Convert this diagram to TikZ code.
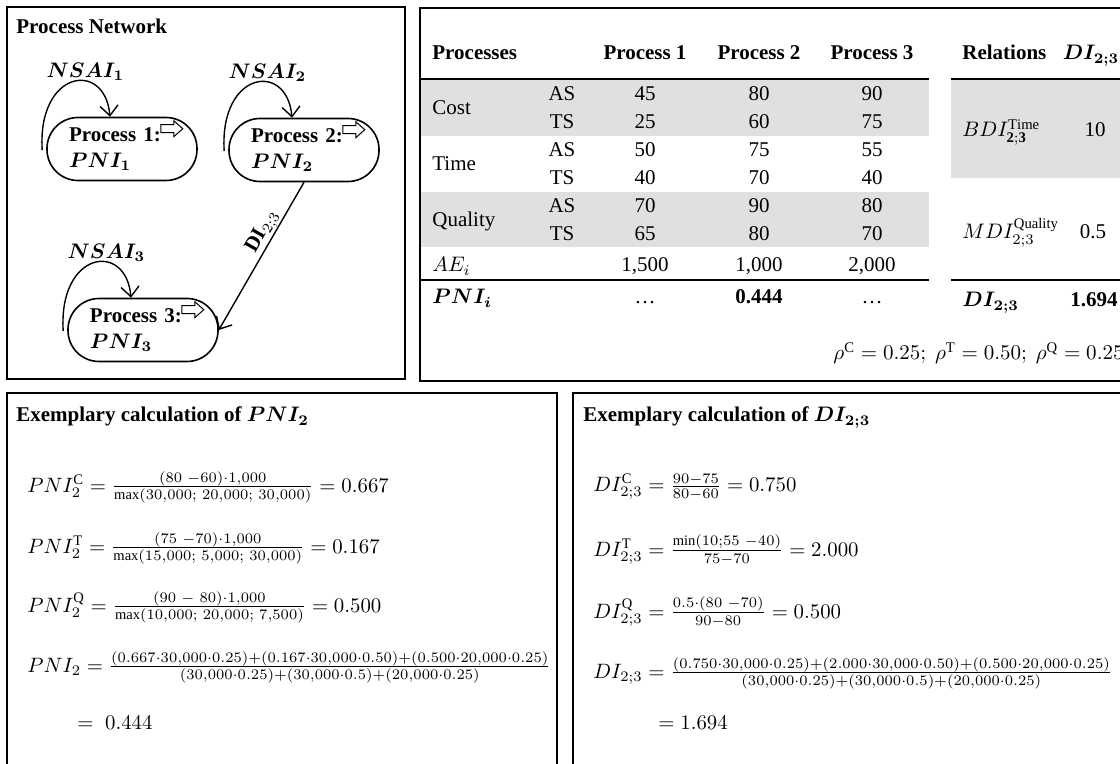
\RequirePackage{fix-cm}
\documentclass[tikz,border=0pt]{standalone}
\usepackage{amsmath, amssymb}
\usepackage{fontspec}
\setmainfont{Liberation Serif}
\usepackage{tikz}
\usetikzlibrary{calc,positioning,arrows.meta}
\tikzset{
	>={Straight Barb[length=5pt,width=9pt]},
	frame/.style={draw, line width=1pt},
	procbox/.style={
		rectangle,
		rounded corners=15.5pt,
		draw=black, line width=0.8pt,
		minimum width=75pt,
		minimum height=31.5pt,
		text width=53pt,
		inner xsep=11pt,
		align=left,
		font=\bfseries\fontsize{10.5}{13}\selectfont},
	selfloop/.style={draw, line width=0.7pt, ->},
	hollow/.style={draw, line width=0.5pt},
	looplabel/.style={anchor=west, inner sep=0pt, font=\fontsize{10.5}{13}\selectfont},
	cell/.style={inner sep=0pt, text height=8pt, text depth=1pt, font=\fontsize{10.5}{13}\selectfont},
	headcell/.style={cell, font=\bfseries\fontsize{10.5}{13}\selectfont},
	tabrule/.style={line width=1.3pt},
	band/.style={fill=black!12},
	formula/.style={anchor=west, inner sep=0pt, font=\fontsize{10.4}{14}\selectfont},
}

\begin{document}
\begin{tikzpicture}[x=0.5pt, y=-0.5pt]
	\useasboundingbox (0,0) rectangle (1120,764);
	\fill[white] (0,0) rectangle (1120,764);
	% shaded rows and rules of the table
	\fill[band] (421,80) rectangle (929,136);
	\fill[band] (421,192) rectangle (929,247);
	\fill[band] (951,80) rectangle (1125,178);
	\draw[tabrule] (420,79) -- (929,79);
	\draw[tabrule] (420,280) -- (929,280);
	\draw[tabrule] (951,79) -- (1125,79);
	\draw[tabrule] (951,280) -- (1125,280);
	\draw[frame] (7,7) rectangle (405,379);
	\draw[frame] (420,8) rectangle (1130,381);
	\draw[frame] (7,393) rectangle (557,775);
	\draw[frame] (573,393) rectangle (1130,775);

	% process network
	\node[headcell, anchor=west] (net) at (16,27) {Process Network};
	\node[procbox] (P1) at (122,149) {Process 1:\\ $\boldsymbol{PNI_1}$};
	\node[procbox] (P2) at (304,150) {Process 2:\\ $\boldsymbol{PNI_2}$};
	\node[procbox] (P3) at (143,330) {Process 3:\\ $\boldsymbol{PNI_3}$};
	\foreach \n in {1,2,3} {
		\node[looplabel] (N\n) at ([shift={(0,-45)}]P\n.north west) {$\boldsymbol{NSAI_\n}$};
		\draw[selfloop] ([shift={(-4,1)}]P\n.west) .. controls +(-5,-80) and +(-5,-57) .. ([shift={(-12,0)}]P\n.north);
		\draw[hollow] ([shift={(-37,8)}]P\n.north east) -- ++(13,0) -- ++(0,-4) -- ++(9,8) -- ++(-9,8) -- ++(0,-4) -- ++(-13,0) -- cycle;
	}
	\draw[selfloop] (P2.south) -- node[cell, pos=0.37, sloped, above=2pt] (DIlab) {\textbf{DI}$_{2;3}$} (P3.east);

	% table
	\node[headcell, anchor=west] (hProc) at (432,53) {Processes};
	\foreach \i/\x in {1/645, 2/759, 3/872}
		\node[headcell] (hP\i) at (\x,53) {Process \i};
	\node[headcell, anchor=west] (hRel) at (962,53) {Relations};
	\node[headcell] (hDI) at (1091,53) {$\boldsymbol{DI_{2;3}}$};
	\foreach \c/\y in {Cost/108, Time/164, Quality/220}
		\node[cell, anchor=west] (k\c) at (432,\y) {\c};
	\foreach \y/\s/\a/\b/\c [count=\r] in {94/AS/45/80/90, 122/TS/25/60/75, 150/AS/50/75/55, 178/TS/40/70/40, 206/AS/70/90/80, 234/TS/65/80/70} {
		\node[cell] (s\r) at (562,\y) {\s};
		\node[cell] (v\r-1) at (645,\y) {\a};
		\node[cell] (v\r-2) at (759,\y) {\b};
		\node[cell] (v\r-3) at (872,\y) {\c};
	}
	\node[cell, anchor=west] (AE) at (432,265) {$AE_i$};
	\foreach \i/\x/\v in {1/645/{1,500}, 2/759/{1,000}, 3/872/{2,000}}
		\node[cell] (ae\i) at (\x,265) {\v};
	\node[cell, anchor=west] (PNI) at (432,297) {$\boldsymbol{PNI_i}$};
	\node[cell] (pni1) at (645,297) {\dots};
	\node[cell] (pni2) at (759,297) {\textbf{0.444}};
	\node[cell] (pni3) at (872,297) {\dots};
	\node[cell, anchor=west] (BDI) at (962,130) {$BDI^{\mathrm{Time}}_{\mathbf{2;3}}$};
	\node[cell] (bdi) at (1095,130) {10};
	\node[cell, anchor=west] (MDI) at (962,232) {$MDI^{\mathrm{Quality}}_{2;3}$};
	\node[cell] (mdi) at (1093,232) {0.5};
	\node[cell, anchor=west] (DI) at (962,300) {$\boldsymbol{DI_{2;3}}$};
	\node[cell] (di) at (1094,300) {\textbf{1.694}};
	\node[cell, anchor=east] (rho) at (1124,353) {$\rho^{\mathrm{C}} = 0.25;\ \rho^{\mathrm{T}} = 0.50;\ \rho^{\mathrm{Q}} = 0.25$};

	% exemplary calculation of PNI
	\node[headcell, anchor=west] (tPNI) at (16,415) {Exemplary calculation of $\boldsymbol{PNI_2}$};
	\node[formula] (fC) at (27,487) {$PNI_2^{\mathrm{C}} = \frac{(80\ -60)\cdot 1,000}{\max(30,000;\ 20,000;\ 30,000)} = 0.667$};
	\node[formula] (fT) at (27,548) {$PNI_2^{\mathrm{T}} = \frac{(75\ -70)\cdot 1,000}{\max(15,000;\ 5,000;\ 30,000)} = 0.167$};
	\node[formula] (fQ) at (27,607) {$PNI_2^{\mathrm{Q}} = \frac{(90\ -\ 80)\cdot 1,000}{\max(10,000;\ 20,000;\ 7,500)} = 0.500$};
	\node[formula] (fP) at (27,667) {$PNI_2 = \frac{(0.667\cdot 30,000\cdot 0.25)+(0.167\cdot 30,000\cdot 0.50)+(0.500\cdot 20,000\cdot 0.25)}{(30,000\cdot 0.25)+(30,000\cdot 0.5)+(20,000\cdot 0.25)}$};
	\node[formula] (fPr) at (77,723) {$=\; 0.444$};

	% exemplary calculation of DI
	\node[headcell, anchor=west] (tDI) at (583,415) {Exemplary calculation of $\boldsymbol{DI_{2;3}}$};
	\node[formula] (gC) at (593,487) {$DI_{2;3}^{\mathrm{C}} = \frac{90-75}{80-60} = 0.750$};
	\node[formula] (gT) at (593,550) {$DI_{2;3}^{\mathrm{T}} = \frac{\min(10;55\ -40)}{75-70} = 2.000$};
	\node[formula] (gQ) at (593,612) {$DI_{2;3}^{\mathrm{Q}} = \frac{0.5\cdot(80\ -70)}{90-80} = 0.500$};
	\node[formula] (gD) at (593,673) {$DI_{2;3} = \frac{(0.750\cdot 30,000\cdot 0.25)+(2.000\cdot 30,000\cdot 0.50)+(0.500\cdot 20,000\cdot 0.25)}{(30,000\cdot 0.25)+(30,000\cdot 0.5)+(20,000\cdot 0.25)}$};
	\node[formula] (gDr) at (658,723) {$= 1.694$};
\end{tikzpicture}
\end{document}
